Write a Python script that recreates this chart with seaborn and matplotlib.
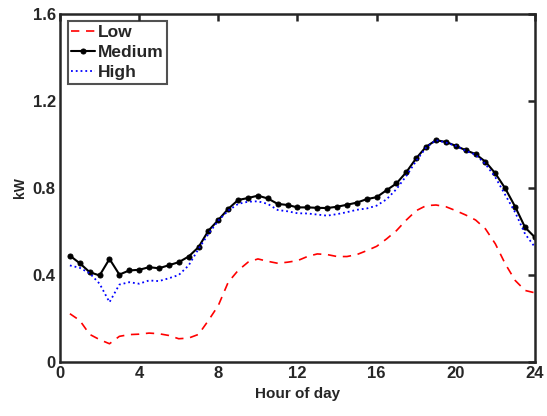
import numpy as np
import pandas as pd
import matplotlib
matplotlib.use("Agg")
import matplotlib.pyplot as plt
import seaborn as sns

hours = [0.5 * i for i in range(1, 49)]

low = [0.222, 0.191, 0.127, 0.103, 0.084, 0.118, 0.126, 0.128, 0.133, 0.130,
       0.122, 0.107, 0.110, 0.127, 0.191, 0.260, 0.367, 0.421, 0.459, 0.474,
       0.463, 0.454, 0.459, 0.466, 0.485, 0.497, 0.494, 0.485, 0.485, 0.494,
       0.512, 0.532, 0.566, 0.604, 0.653, 0.696, 0.719, 0.722, 0.714, 0.696,
       0.676, 0.653, 0.612, 0.543, 0.451, 0.375, 0.329, 0.318]

medium = [0.489, 0.454, 0.413, 0.398, 0.474, 0.402, 0.421, 0.424, 0.436, 0.431,
          0.445, 0.459, 0.485, 0.528, 0.604, 0.653, 0.704, 0.745, 0.754, 0.765,
          0.752, 0.727, 0.722, 0.711, 0.711, 0.709, 0.708, 0.714, 0.723, 0.733,
          0.749, 0.758, 0.790, 0.821, 0.873, 0.937, 0.990, 1.020, 1.012, 0.994,
          0.974, 0.956, 0.921, 0.867, 0.798, 0.714, 0.619, 0.573]

high = [0.444, 0.433, 0.408, 0.360, 0.275, 0.356, 0.367, 0.360, 0.375, 0.372,
        0.385, 0.400, 0.444, 0.520, 0.589, 0.650, 0.696, 0.727, 0.737, 0.739,
        0.727, 0.699, 0.693, 0.684, 0.683, 0.678, 0.673, 0.680, 0.689, 0.700,
        0.706, 0.719, 0.748, 0.795, 0.856, 0.925, 0.986, 1.020, 1.009, 0.994,
        0.971, 0.953, 0.910, 0.849, 0.768, 0.688, 0.589, 0.528]

xticks = [0, 4, 8, 12, 16, 20, 24]
yticks = [0, 0.4, 0.8, 1.2, 1.6]
ytick_labels = ["0", "0.4", "0.8", "1.2", "1.6"]

sns.set_style("white")
plt.rcParams["font.family"] = ["Liberation Sans", "DejaVu Sans"]
plt.rcParams["font.weight"] = "bold"

df = pd.DataFrame({"hour": hours, "Low": low, "Medium": medium, "High": high})

fig = plt.figure(figsize=(5.47, 4.16), dpi=100)
ax = fig.add_axes([0.1097, 0.1298, 0.8683, 0.8364])

sns.lineplot(data=df, x="hour", y="Low", ax=ax, color="#ff0000", lw=1.2,
             label="Low")
ax.lines[-1].set_dashes([5, 4])
sns.lineplot(data=df, x="hour", y="Medium", ax=ax, color="black", lw=1.5,
             marker="o", markersize=3.6, markeredgecolor="black", label="Medium")
sns.lineplot(data=df, x="hour", y="High", ax=ax, color="#0000ff", lw=1.3,
             linestyle=":", label="High")

ax.set_xlim(0, 24)
ax.set_ylim(0, 1.6)
ax.set_xticks(xticks)
ax.set_xticklabels([str(t) for t in xticks])
ax.set_yticks(yticks)
ax.set_yticklabels(ytick_labels)
ax.set_xlabel("Hour of day", fontsize=11, fontweight="bold", color="#262626")
ax.set_ylabel("kW", fontsize=10, fontweight="bold", color="#262626")

for s in ax.spines.values():
    s.set_linewidth(1.8)
    s.set_color("#262626")
    s.set_visible(True)
ax.tick_params(axis="both", direction="in", length=5, width=1.8,
               top=True, right=True, labelsize=12, colors="#262626",
               labelcolor="#262626", pad=3)
for lbl in ax.get_xticklabels() + ax.get_yticklabels():
    lbl.set_fontweight("bold")

leg = ax.legend(loc="upper left", bbox_to_anchor=(0.005, 0.995), fontsize=12.5,
                frameon=True, fancybox=False, borderpad=0.2, labelspacing=0.3,
                handlelength=1.4, handletextpad=0.15, borderaxespad=0.3)
leg.get_frame().set_edgecolor("#262626")
leg.get_frame().set_linewidth(1.5)
for t in leg.get_texts():
    t.set_fontweight("bold")

fig.savefig("out.png", dpi=100)
